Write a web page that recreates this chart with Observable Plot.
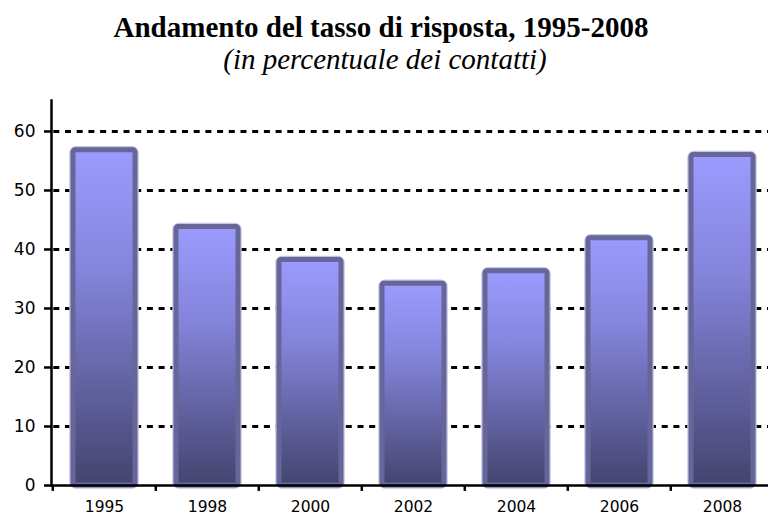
<!DOCTYPE html>
<html>
<head>
<meta charset="utf-8">
<script src="https://cdn.jsdelivr.net/npm/d3@7"></script>
<script src="https://cdn.jsdelivr.net/npm/@observablehq/plot@0.6"></script>
<style>
  html, body { margin: 0; padding: 0; background: #fff; }
  #wrap { position: relative; width: 768px; height: 517px; overflow: hidden; }
  #title { position: absolute; top: 10px; left: -3px; width: 768px; text-align: center; white-space: nowrap;
    font-family: "Liberation Serif", "Times New Roman", serif; font-weight: bold; font-size: 29px; line-height: 34px; color: #000; }
  #subtitle { position: absolute; top: 42px; left: 1px; width: 768px; text-align: center; white-space: nowrap;
    font-family: "Liberation Serif", "Times New Roman", serif; font-style: italic; font-size: 29px; line-height: 34px; color: #000; }
  #chart { position: absolute; top: 95px; left: 0; }
</style>
</head>
<body>
<div id="wrap">
  <div id="title">Andamento del tasso di risposta, 1995-2008</div>
  <div id="subtitle">(in percentuale dei contatti)</div>
  <div id="chart"></div>
</div>
<script>
const years = ["1995", "1998", "2000", "2002", "2004", "2006", "2008"];
const rates = [56.8, 43.8, 38.2, 34.2, 36.3, 41.9, 56.0];
const yTicks = [0, 10, 20, 30, 40, 50, 60];
const gridValues = [10, 20, 30, 40, 50, 60];

const data = years.map((y, i) => ({year: y, rate: rates[i]}));

const W = 768, H = 422;
const x0 = 51, x1 = 775;
const step = (x1 - x0) / years.length;

const plot = Plot.plot({
  width: W,
  height: H,
  marginTop: 5,
  marginBottom: 32,
  marginLeft: 51,
  marginRight: 0,
  style: {background: "transparent", fontFamily: "'DejaVu Sans', Verdana, sans-serif"},
  x: {domain: years, range: [x0, x1], paddingInner: 0.4, paddingOuter: 0.2, align: 0.5, axis: null},
  y: {domain: [0, 65.25], axis: null},
  marks: [
    Plot.ruleY(gridValues, {stroke: "#000", strokeWidth: 3, strokeDasharray: "6,5.7", strokeDashoffset: -14}),
    Plot.barY(data, {x: "year", y: "rate", fill: "none", stroke: "#c4c4e6", strokeWidth: 7.5, rx: 3}),
    Plot.barY(data, {x: "year", y: "rate", fill: "url(#barGrad)", stroke: "#666699", strokeWidth: 5, rx: 2}),
    Plot.frame({anchor: "left", stroke: "#000", strokeWidth: 2.5}),
    Plot.ruleY([0], {stroke: "#000", strokeWidth: 2.5}),
    Plot.axisY({ticks: yTicks, tickSize: 7, tickPadding: 9, fontSize: 17, strokeWidth: 2.5, stroke: "#000", color: "#000", label: null}),
    Plot.ruleX(years, {x: d => d, y1: 0, y2: -1.0, dx: -step / 2, stroke: "#000", strokeWidth: 2.5}),
    Plot.axisX({tickSize: 0, tickPadding: 15, fontSize: 15.5, color: "#000", label: null})
  ]
});

const svg = d3.select(plot);
const defs = svg.insert("defs", ":first-child");
const grad = defs.append("linearGradient").attr("id", "barGrad")
  .attr("x1", 0).attr("y1", 0).attr("x2", 0).attr("y2", 1);
grad.append("stop").attr("offset", "0%").attr("stop-color", "#9b9bff");
grad.append("stop").attr("offset", "35%").attr("stop-color", "#8585dd");
grad.append("stop").attr("offset", "100%").attr("stop-color", "#44446f");

document.getElementById("chart").appendChild(plot);
</script>
</body>
</html>
